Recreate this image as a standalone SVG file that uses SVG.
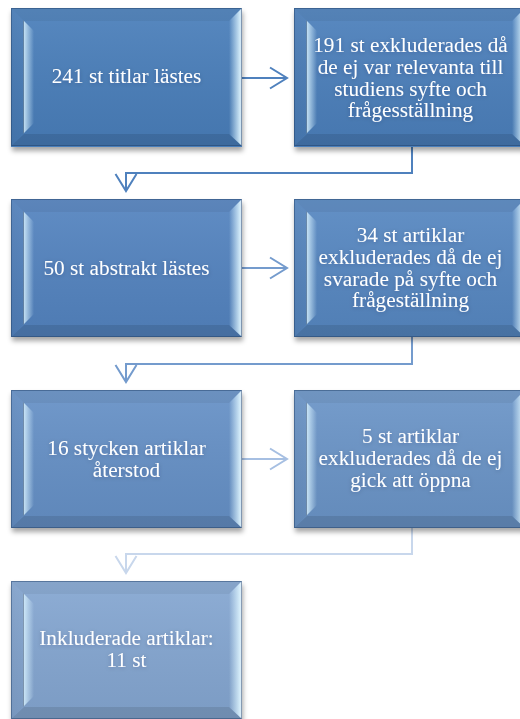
<svg xmlns="http://www.w3.org/2000/svg" xmlns:xlink="http://www.w3.org/1999/xlink" width="520" height="719" viewBox="0 0 520 719">
<style>
.lbl{font-family:"Liberation Serif","Times New Roman",serif;font-size:21.3px;fill:#ffffff;text-anchor:middle;filter:url(#tsh)}
.con{fill:none;stroke-width:2}
.box{filter:url(#bsh)}
</style>
<defs>
<filter id="bsh" x="-10%" y="-10%" width="125%" height="130%">
<feDropShadow dx="1" dy="4" stdDeviation="2.5" flood-color="#000" flood-opacity="0.35"/>
</filter>
<filter id="tsh" x="-10%" y="-30%" width="120%" height="160%">
<feDropShadow dx="0" dy="1" stdDeviation="2" flood-color="#0b2545" flood-opacity="0.22"/>
</filter>
<linearGradient id="gMain" x1="0" y1="0" x2="0" y2="1">
<stop offset="0" stop-color="#fff" stop-opacity="0.08"/>
<stop offset="1" stop-color="#000" stop-opacity="0.06"/>
</linearGradient>
<linearGradient id="gLeft" gradientUnits="userSpaceOnUse" x1="0" y1="0" x2="23" y2="0">
<stop offset="0" stop-color="#000" stop-opacity="0.04"/>
<stop offset="0.5" stop-color="#000" stop-opacity="0.02"/>
<stop offset="0.58" stop-color="#d8f2ff" stop-opacity="0.8"/>
<stop offset="1" stop-color="#d8f2ff" stop-opacity="0"/>
</linearGradient>
<linearGradient id="gRight" gradientUnits="userSpaceOnUse" x1="218" y1="0" x2="231" y2="0">
<stop offset="0" stop-color="#d8f2ff" stop-opacity="0"/>
<stop offset="0.85" stop-color="#e0f6ff" stop-opacity="0.9"/>
<stop offset="1" stop-color="#ffffff" stop-opacity="0.7"/>
</linearGradient>
<g id="bevel">
<rect x="0" y="0" width="231" height="138" fill="url(#gMain)"/>
<polygon points="0,0 231,0 218,13 13,13" fill="#000" fill-opacity="0.05"/>
<polygon points="0,0 23,23 23,115 0,138" fill="url(#gLeft)"/>
<polygon points="231,0 231,138 218,126 218,13" fill="url(#gRight)"/>
<polygon points="0,138 231,138 218,126 13,126" fill="#000" fill-opacity="0.1"/>
<rect x="0.5" y="0.5" width="230" height="137" fill="none" stroke="#1f3f66" stroke-opacity="0.45" stroke-width="1"/>
</g>
<marker id="m1" markerUnits="userSpaceOnUse" markerWidth="20" markerHeight="24" refX="0" refY="0" orient="auto" overflow="visible"><path d="M-17,-10.5 L0,0 L-17,10.5" fill="none" stroke="#4f81bd" stroke-width="2"/></marker>
<marker id="m2" markerUnits="userSpaceOnUse" markerWidth="20" markerHeight="24" refX="0" refY="0" orient="auto" overflow="visible"><path d="M-17,-10.5 L0,0 L-17,10.5" fill="none" stroke="#749bcd" stroke-width="2"/></marker>
<marker id="m3" markerUnits="userSpaceOnUse" markerWidth="20" markerHeight="24" refX="0" refY="0" orient="auto" overflow="visible"><path d="M-17,-10.5 L0,0 L-17,10.5" fill="none" stroke="#a6bfe2" stroke-width="2"/></marker>
<marker id="m4" markerUnits="userSpaceOnUse" markerWidth="20" markerHeight="24" refX="0" refY="0" orient="auto" overflow="visible"><path d="M-17,-10.5 L0,0 L-17,10.5" fill="none" stroke="#c8d7ec" stroke-width="2"/></marker>
</defs>
<rect width="520" height="719" fill="#ffffff"/>

<g id="connectors">
<path class="con" d="M242,78 H287" stroke="#4f81bd" marker-end="url(#m1)"/>
<path class="con" d="M412,147 V173 H126 V191" stroke="#4f81bd" marker-end="url(#m1)"/>
<path class="con" d="M242,268 H287" stroke="#749bcd" marker-end="url(#m2)"/>
<path class="con" d="M412,337 V364 H126 V382" stroke="#749bcd" marker-end="url(#m2)"/>
<path class="con" d="M242,459 H287" stroke="#a6bfe2" marker-end="url(#m3)"/>
<path class="con" d="M412,528 V554 H126 V573" stroke="#c8d7ec" marker-end="url(#m4)"/>
</g>

<g id="node1">
<g class="box"><rect x="11" y="8" width="231" height="139" fill="#4a7eba"/></g>
<use xlink:href="#bevel" x="11" y="8"/>
<text class="lbl" x="126.5" y="83">241 st titlar lästes</text>
</g>

<g id="node2">
<g class="box"><rect x="294" y="8" width="231" height="139" fill="#4c7fbb"/></g>
<use xlink:href="#bevel" x="294" y="8"/>
<text class="lbl" x="410.5" y="52">191 st exkluderades då<tspan x="410.5" dy="21.8">de ej var relevanta till</tspan><tspan x="410.5" dy="21.8">studiens syfte och</tspan><tspan x="410.5" dy="21.8">frågesställning</tspan></text>
</g>

<g id="node3">
<g class="box"><rect x="11" y="199" width="231" height="138" fill="#5383bf"/></g>
<use xlink:href="#bevel" x="11" y="199"/>
<text class="lbl" x="126.5" y="275">50 st abstrakt lästes</text>
</g>

<g id="node4">
<g class="box"><rect x="294" y="199" width="231" height="138" fill="#5787c1"/></g>
<use xlink:href="#bevel" x="294" y="199"/>
<text class="lbl" x="410.5" y="242">34 st artiklar<tspan x="410.5" dy="21.8">exkluderades då de ej</tspan><tspan x="410.5" dy="21.8">svarade på syfte och</tspan><tspan x="410.5" dy="21.8">frågeställning</tspan></text>
</g>

<g id="node5">
<g class="box"><rect x="11" y="390" width="231" height="138" fill="#6590c6"/></g>
<use xlink:href="#bevel" x="11" y="390"/>
<text class="lbl" x="126.5" y="455">16 stycken artiklar<tspan x="126.5" dy="21.8">återstod</tspan></text>
</g>

<g id="node6">
<g class="box"><rect x="294" y="390" width="231" height="138" fill="#6a94c7"/></g>
<use xlink:href="#bevel" x="294" y="390"/>
<text class="lbl" x="410.5" y="443">5 st artiklar<tspan x="410.5" dy="21.8">exkluderades då de ej</tspan><tspan x="410.5" dy="21.8">gick att öppna</tspan></text>
</g>

<g id="node7">
<g class="box"><rect x="11" y="581" width="231" height="138" fill="#84a6d1"/></g>
<use xlink:href="#bevel" x="11" y="581"/>
<text class="lbl" x="126.5" y="645">Inkluderade artiklar:<tspan x="126.5" dy="21.8">11 st</tspan></text>
</g>
</svg>
